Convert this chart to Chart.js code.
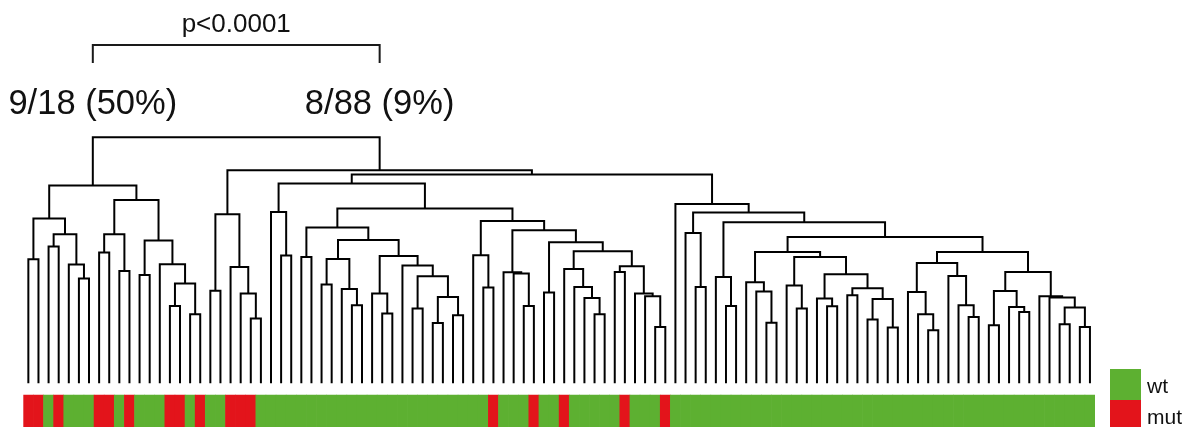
<!DOCTYPE html>
<html>
<head>
<meta charset="utf-8">
<script src="https://cdn.jsdelivr.net/npm/chart.js@4.4.1/dist/chart.umd.min.js"></script>
<style>
  html, body { margin: 0; padding: 0; background: #ffffff; overflow: hidden; }
  canvas { display: block; }
</style>
</head>
<body>
<canvas id="dendro" width="1191" height="427"></canvas>
<script>
// Genotype of each sample, listed in dendrogram leaf order (left to right)
const genotype = [
  'mut','mut','wt','mut','wt','wt','wt','mut','mut','wt',
  'mut','wt','wt','wt','mut','mut','wt','mut','wt','wt',
  'mut','mut','mut','wt','wt','wt','wt','wt','wt','wt',
  'wt','wt','wt','wt','wt','wt','wt','wt','wt','wt',
  'wt','wt','wt','wt','wt','wt','mut','wt','wt','wt',
  'mut','wt','wt','mut','wt','wt','wt','wt','wt','mut',
  'wt','wt','wt','mut','wt','wt','wt','wt','wt','wt',
  'wt','wt','wt','wt','wt','wt','wt','wt','wt','wt',
  'wt','wt','wt','wt','wt','wt','wt','wt','wt','wt',
  'wt','wt','wt','wt','wt','wt','wt','wt','wt','wt',
  'wt','wt','wt','wt','wt','wt'
];

// Agglomeration steps, hclust style: a negative entry is a leaf (1-based leaf position),
// a positive entry refers to an earlier step (1-based)
const merge = [
  [-1,-2],[-3,-4],[-6,-7],[-5,3],[2,4],[1,5],[-8,-9],[-10,-11],[7,8],[-12,-13],
  [-15,-16],[-17,-18],[11,12],[-14,13],[10,14],[9,15],[6,16],
  [-19,-20],[-23,-24],[-22,19],[-21,20],[18,21],
  [-26,-27],[-25,23],
  [-28,-29],[-30,-31],[-33,-34],[-32,27],[26,28],[-36,-37],[-35,30],[-39,-40],
  [-41,-42],[-43,-44],[33,34],[32,35],[-38,36],[31,37],[29,38],[25,39],
  [-46,-47],[-45,41],[-50,-51],[-49,43],[-48,44],[-52,-53],[-57,-58],[-56,47],
  [-55,48],[-54,49],[-59,-60],[-63,-64],[-62,52],[-61,53],[51,54],[50,55],
  [46,56],[45,57],[42,58],[40,59],[24,60],
  [-67,-68],[-66,62],[-70,-71],[-69,64],[-74,-75],[-73,66],[-72,67],[-77,-78],
  [-76,69],[-80,-81],[-79,71],[-82,-83],[-84,-85],[-86,-87],[74,75],[73,76],
  [72,77],[70,78],[68,79],[-90,-91],[-89,81],[-88,82],[-94,-95],[-93,84],
  [-92,85],[83,86],[-96,-97],[-99,-100],[-98,89],[88,90],[-103,-104],[-105,-106],
  [92,93],[-102,94],[-101,95],[91,96],[87,97],[80,98],[65,99],[63,100],
  [-65,101],[61,102],[22,103],[17,104]
];

// Height of each step
const height = [
  12.40,13.67,10.47,11.87,14.90,16.47,13.07,11.23,14.90,10.83,
  7.73,6.90,9.97,11.90,14.27,18.33,19.77,
  9.25,6.47,8.97,11.63,16.90,
  12.77,17.13,
  12.63,9.87,7.80,9.43,12.43,6.97,8.97,7.47,
  6.03,6.80,8.63,10.70,11.77,12.73,14.33,15.57,
  9.57,12.80,7.73,10.97,11.10,9.07,6.90,8.53,
  9.63,11.43,11.13,5.63,8.70,8.97,11.70,13.20,
  14.10,15.30,16.23,17.47,19.97,
  9.63,15.03,7.73,10.63,6.05,9.17,10.10,7.47,
  9.77,7.70,8.47,8.80,6.37,5.57,8.43,9.50,
  10.90,12.63,13.13,5.30,6.90,9.13,6.63,7.80,
  10.73,12.03,5.80,7.13,7.63,9.23,5.90,5.63,
  7.57,8.57,8.70,11.13,13.13,14.63,16.10,17.08,
  17.92,20.87,21.30,24.60
];

// Top split: mutation counts per cluster and the test result
const clusterLabels = ['9/18 (50%)', '8/88 (9%)'];
const pValueLabel = 'p<0.0001';

// Genotype categories and their colours
const genotypeNames = ['wt', 'mut'];
const genotypeColors = { wt: '#5db031', mut: '#e3141b' };

// ---- build node positions and the elbow segments ----
const nodeX = [];
const nodeH = [];
function ref(r) {
  return r < 0 ? { x: -r - 1, h: 0 } : { x: nodeX[r - 1], h: nodeH[r - 1] };
}
const linkSets = merge.map(([a, b], k) => {
  const A = ref(a), B = ref(b);
  nodeX[k] = (A.x + B.x) / 2;
  nodeH[k] = height[k];
  return {
    type: 'line',
    data: [
      { x: A.x, y: A.h }, { x: A.x, y: height[k] },
      { x: B.x, y: height[k] }, { x: B.x, y: B.h }
    ],
    borderColor: '#000000',
    borderWidth: 2,
    pointRadius: 0,
    tension: 0,
    fill: false,
    borderJoinStyle: 'miter',
    borderCapStyle: 'butt'
  };
});

// Genotype strip below the leaves
const STRIP_TOP = -1.17, STRIP_BOTTOM = -4.6;
const stripSet = {
  type: 'bar',
  data: genotype.map((g, i) => ({ x: i, y: [STRIP_TOP, STRIP_BOTTOM] })),
  backgroundColor: genotype.map(g => genotypeColors[g]),
  borderWidth: 0,
  barPercentage: 1,
  categoryPercentage: 1,
  grouped: false
};

// Annotations: p-value bracket, cluster labels and the genotype key
const annotations = {
  id: 'annotations',
  afterDraw(chart) {
    const { ctx, scales: { x: xs } } = chart;
    const root = merge[merge.length - 1];
    const lx = xs.getPixelForValue(ref(root[0]).x);
    const rx = xs.getPixelForValue(ref(root[1]).x);
    ctx.save();
    ctx.strokeStyle = '#1a1a1a';
    ctx.lineWidth = 2;
    ctx.lineJoin = 'miter';
    ctx.beginPath();
    ctx.moveTo(lx, 63);
    ctx.lineTo(lx, 45);
    ctx.lineTo(rx, 45);
    ctx.lineTo(rx, 63);
    ctx.stroke();

    ctx.fillStyle = '#111111';
    ctx.textAlign = 'center';
    ctx.textBaseline = 'alphabetic';
    ctx.font = '26px "Liberation Sans", Arial, sans-serif';
    ctx.fillText(pValueLabel, (lx + rx) / 2, 32);
    ctx.font = '34.5px "Liberation Sans", Arial, sans-serif';
    ctx.fillText(clusterLabels[0], lx, 114);
    ctx.fillText(clusterLabels[1], rx, 114);

    // key
    const kx = 1110, ky = 369, ks = 31;
    ctx.textAlign = 'left';
    ctx.font = '21px "Liberation Sans", Arial, sans-serif';
    genotypeNames.forEach((g, i) => {
      ctx.fillStyle = genotypeColors[g];
      ctx.fillRect(kx, ky + i * ks, ks, ks);
      ctx.fillStyle = '#111111';
      ctx.fillText(g, kx + 37, ky + i * ks + 24);
    });
    ctx.restore();
  }
};

new Chart(document.getElementById('dendro'), {
  type: 'scatter',
  data: { datasets: [stripSet, ...linkSets] },
  options: {
    responsive: false,
    animation: false,
    events: [],
    layout: { padding: { left: 23.3, right: 96, top: 0, bottom: 0 } },
    scales: {
      x: { type: 'linear', offset: false, min: -0.5, max: genotype.length - 0.5, display: false },
      y: { type: 'linear', min: -4.37, max: 38.33, display: false }
    },
    plugins: {
      legend: { display: false },
      tooltip: { enabled: false }
    }
  },
  plugins: [annotations]
});
</script>
</body>
</html>
